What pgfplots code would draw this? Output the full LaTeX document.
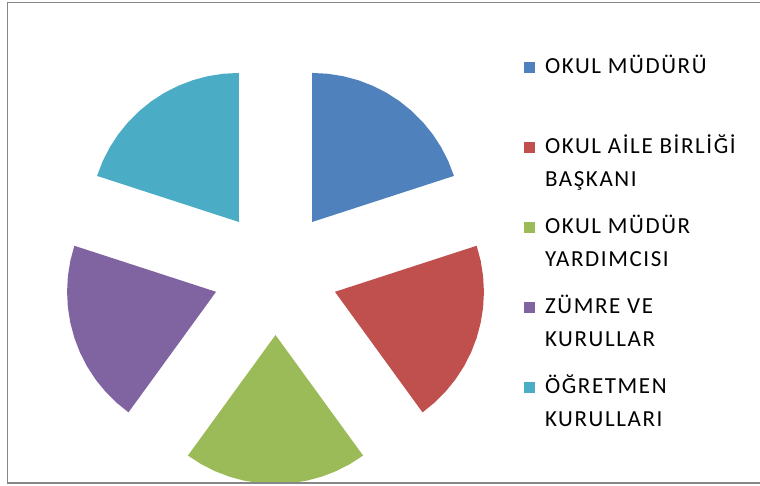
\documentclass[border=0pt]{standalone}
\usepackage{fontspec}
\usepackage{pgfplots}
\pgfplotsset{compat=1.18}
\newfontfamily\legendfont{Carlito}[LetterSpace=7]
\definecolor{cBlue}{HTML}{4F81BD}
\definecolor{cRed}{HTML}{C0504D}
\definecolor{cGreen}{HTML}{9BBB59}
\definecolor{cPurple}{HTML}{8064A2}
\definecolor{cTeal}{HTML}{4BACC6}
\definecolor{frameGray}{HTML}{878787}
\begin{document}
\begin{tikzpicture}
\useasboundingbox (0,0) rectangle (760pt,485pt);
\begin{axis}[
  at={(0,0)}, anchor=south west,
  scale only axis, x=1pt, y=1pt,
  xmin=0, xmax=760, ymin=0, ymax=485,
  hide axis, clip=false,
  legend style={at={(axis cs:524,432)}, anchor=north west, draw=none, fill=none,
    inner sep=0pt, outer sep=0pt, row sep=0pt, column sep=10pt,
    font=\legendfont\fontsize{23pt}{27pt}\selectfont,
    cells={anchor=base west}, nodes={inner sep=0pt, outer sep=0pt}},
  legend image code/.code={\fill[#1] (0pt,0pt) rectangle (11pt,11pt);},
]
% five equal shares (20% each), exploded pie; slices clockwise from 12 o'clock
\addplot[fill=cBlue, draw=none] coordinates {
 (312.24,263.06) (312.24,412.06) (327.82,411.24) (343.22,408.80) (358.28,404.77)
 (372.84,399.18) (386.74,392.10) (399.82,383.60) (411.94,373.79) (422.97,362.76)
 (432.78,350.64) (441.28,337.56) (448.36,323.66) (453.95,309.10) (312.24,263.06)};
\addlegendentry[text height=20pt, text depth=13pt]{OKUL MÜDÜRÜ}
\addlegendimage{empty legend}
\addlegendentry[text height=20pt, text depth=27pt]{}
\addplot[fill=cRed, draw=none] coordinates {
 (334.94,193.19) (476.65,239.23) (480.68,224.17) (483.12,208.77) (483.94,193.19)
 (483.12,177.62) (480.68,162.21) (476.65,147.15) (471.06,132.59) (463.98,118.69)
 (455.48,105.61) (445.67,93.49) (434.64,82.46) (422.52,72.65) (334.94,193.19)};
\addlegendentry[text height=20pt, text depth=13pt]{OKUL AİLE BİRLİĞİ}
\addlegendimage{empty legend}
\addlegendentry[text height=20pt, text depth=27pt]{BAŞKANI}
\addplot[fill=cGreen, draw=none] coordinates {
 (275.5,150.0) (363.08,29.46) (350.0,20.96) (336.10,13.88) (321.54,8.29)
 (306.48,4.26) (291.08,1.82) (275.5,1.0) (259.93,1.82) (244.52,4.26)
 (229.46,8.29) (214.90,13.88) (201.0,20.96) (187.92,29.46) (275.5,150.0)};
\addlegendentry[text height=20pt, text depth=13pt]{OKUL MÜDÜR}
\addlegendimage{empty legend}
\addlegendentry[text height=20pt, text depth=27pt]{YARDIMCISI}
\addplot[fill=cPurple, draw=none] coordinates {
 (216.06,193.19) (128.48,72.65) (116.36,82.46) (105.33,93.49) (95.52,105.61)
 (87.02,118.69) (79.94,132.59) (74.35,147.15) (70.32,162.21) (67.88,177.62)
 (67.06,193.19) (67.88,208.77) (70.32,224.17) (74.35,239.23) (216.06,193.19)};
\addlegendentry[text height=20pt, text depth=13pt]{ZÜMRE VE}
\addlegendimage{empty legend}
\addlegendentry[text height=20pt, text depth=27pt]{KURULLAR}
\addplot[fill=cTeal, draw=none] coordinates {
 (238.76,263.06) (97.05,309.10) (102.64,323.66) (109.72,337.56) (118.22,350.64)
 (128.03,362.76) (139.06,373.79) (151.18,383.60) (164.26,392.10) (178.16,399.18)
 (192.72,404.77) (207.78,408.80) (223.19,411.24) (238.76,412.06) (238.76,263.06)};
\addlegendentry[text height=20pt, text depth=13pt]{ÖĞRETMEN}
\addlegendimage{empty legend}
\addlegendentry[text height=20pt, text depth=27pt]{KURULLARI}
\draw[frameGray, line width=1.2pt] (axis cs:760,482.5) -- (axis cs:7.5,482.5) -- (axis cs:7.5,2) -- (axis cs:760,2);
\end{axis}
\end{tikzpicture}
\end{document}
